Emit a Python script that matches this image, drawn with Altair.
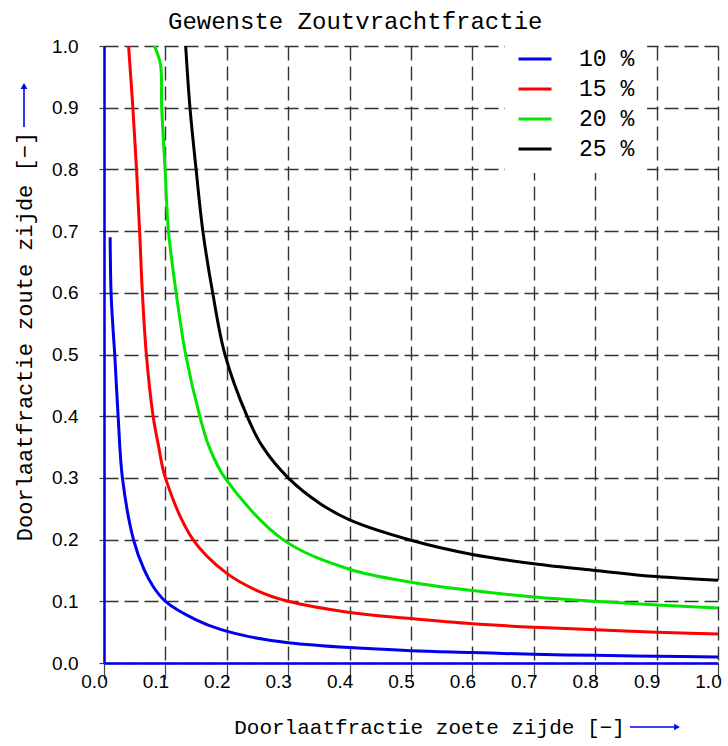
import altair as alt
import pandas as pd

# ---- data ----
series_names = ["10 %", "15 %", "20 %", "25 %"]
series_colors = ["#0000ee", "#ff0000", "#00e600", "#000000"]

x_10 = [0.010, 0.0115, 0.0148, 0.0175, 0.023, 0.030, 0.048, 0.065, 0.080, 0.1, 0.15, 0.191, 0.25, 0.3, 0.4, 0.5, 0.6, 0.7, 0.8, 0.9, 1.0]
y_10 = [0.690, 0.600, 0.540, 0.500, 0.400, 0.300, 0.200, 0.152, 0.124, 0.100, 0.070, 0.054, 0.040, 0.033, 0.025, 0.020, 0.017, 0.014, 0.0125, 0.011, 0.0097]

x_15 = [0.040, 0.047, 0.053, 0.058, 0.0625, 0.069, 0.080, 0.089, 0.100, 0.145, 0.199, 0.25, 0.300, 0.4, 0.5, 0.6, 0.7, 0.8, 0.9, 1.0]
y_15 = [1.000, 0.900, 0.800, 0.700, 0.600, 0.500, 0.400, 0.351, 0.300, 0.200, 0.146, 0.117, 0.100, 0.082, 0.072, 0.0635, 0.058, 0.054, 0.050, 0.047]

x_20 = [0.082, 0.092, 0.094, 0.0995, 0.105, 0.1175, 0.133, 0.156, 0.171, 0.197, 0.2915, 0.4, 0.5, 0.6, 0.7, 0.8, 0.9, 1.0]
y_20 = [1.000, 0.970, 0.900, 0.800, 0.700, 0.600, 0.500, 0.400, 0.351, 0.300, 0.200, 0.152, 0.131, 0.1175, 0.107, 0.100, 0.094, 0.089]

x_25 = [0.133, 0.140, 0.150, 0.161, 0.177, 0.197, 0.233, 0.258, 0.300, 0.351, 0.400, 0.5, 0.6, 0.7, 0.8, 0.9, 1.0]
y_25 = [1.000, 0.900, 0.800, 0.700, 0.600, 0.500, 0.400, 0.351, 0.300, 0.259, 0.232, 0.199, 0.176, 0.161, 0.150, 0.140, 0.134]

tick_values = [0.0, 0.1, 0.2, 0.3, 0.4, 0.5, 0.6, 0.7, 0.8, 0.9, 1.0]

title_text = "Gewenste Zoutvrachtfractie"
x_title = "Doorlaatfractie zoete zijde [\u2212]"
y_title = "Doorlaatfractie zoute zijde [\u2212]"

rows = []
for name, xs, ys in zip(series_names, [x_10, x_15, x_20, x_25], [y_10, y_15, y_20, y_25]):
    for i, (xv, yv) in enumerate(zip(xs, ys)):
        rows.append({"serie": name, "x": xv, "y": yv, "i": i})
df = pd.DataFrame(rows)

W, H = 614, 617

lines = alt.Chart(df).mark_line(strokeWidth=3, interpolate="catmull-rom", clip=True).encode(
    x=alt.X("x:Q",
            scale=alt.Scale(domain=[0, 1], nice=False, zero=False),
            axis=alt.Axis(values=tick_values, format=".1f", title=x_title,
                          titleX=325, titleY=64, titleBaseline="middle",
                          titleAlign="center", titleFontSize=21,
                          tickSize=16, labelPadding=-7, labelOffset=-10,
                          labelFlush=False)),
    y=alt.Y("y:Q",
            scale=alt.Scale(domain=[0, 1], nice=False, zero=False),
            axis=alt.Axis(values=tick_values, format=".1f", title=y_title,
                          titleX=-80, titleY=290, titleAngle=270,
                          titleBaseline="middle", titleAlign="center", titleFontSize=22,
                          tickSize=5, labelPadding=21, labelFlush=False)),
    color=alt.Color("serie:N",
                    scale=alt.Scale(domain=series_names, range=series_colors),
                    legend=alt.Legend(title=None, orient="none", legendX=401, legendY=-17,
                                      fillColor="white", padding=12,
                                      symbolType="stroke", symbolSize=1089,
                                      symbolStrokeWidth=3, labelFont="Liberation Mono",
                                      labelFontSize=23, labelOffset=26, rowPadding=-2,
                                      labelColor="black",
                                      labelExpr="datum.label + '  '")),
    order="i:Q",
)

one = pd.DataFrame({"k": [0]})
arrow_x_line = alt.Chart(one).mark_rule(color="#0000ee", strokeWidth=1.6).encode(
    x=alt.value(526), x2=alt.value(570), y=alt.value(681))
arrow_x_head = alt.Chart(one).mark_point(shape="triangle-right", filled=True, color="#0000ee",
                                         size=45, opacity=1).encode(
    x=alt.value(573), y=alt.value(681))
arrow_y_line = alt.Chart(one).mark_rule(color="#0000ee", strokeWidth=1.6).encode(
    x=alt.value(-80), y=alt.value(81), y2=alt.value(43))
arrow_y_head = alt.Chart(one).mark_point(shape="triangle-up", filled=True, color="#0000ee",
                                         size=45, opacity=1).encode(
    x=alt.value(-80), y=alt.value(40))

chart = alt.layer(lines, arrow_x_line, arrow_x_head, arrow_y_line, arrow_y_head).properties(
    width=W, height=H,
    autosize=alt.AutoSizeParams(type="none"),
    padding={"left": 104, "top": 46, "right": 10, "bottom": 83},
    title=alt.TitleParams(title_text, font="Liberation Mono", fontSize=24,
                          fontWeight="normal", anchor="start", frame="group",
                          dx=64, dy=13, offset=8, color="black"),
).configure(background="white").configure_view(stroke=None).configure_axis(
    grid=True, gridColor="#333333", gridDash=[14, 6], gridWidth=1.4, gridOpacity=1,
    domainColor="#0000ee", domainWidth=2.5,
    tickColor="#444444", tickWidth=1.2,
    labelFont="Liberation Sans", labelFontSize=19, labelColor="black",
    titleFont="Liberation Mono", titleFontWeight="normal", titleColor="black",
)

chart.save("out.html", embed_options={"renderer": "svg", "actions": False})
